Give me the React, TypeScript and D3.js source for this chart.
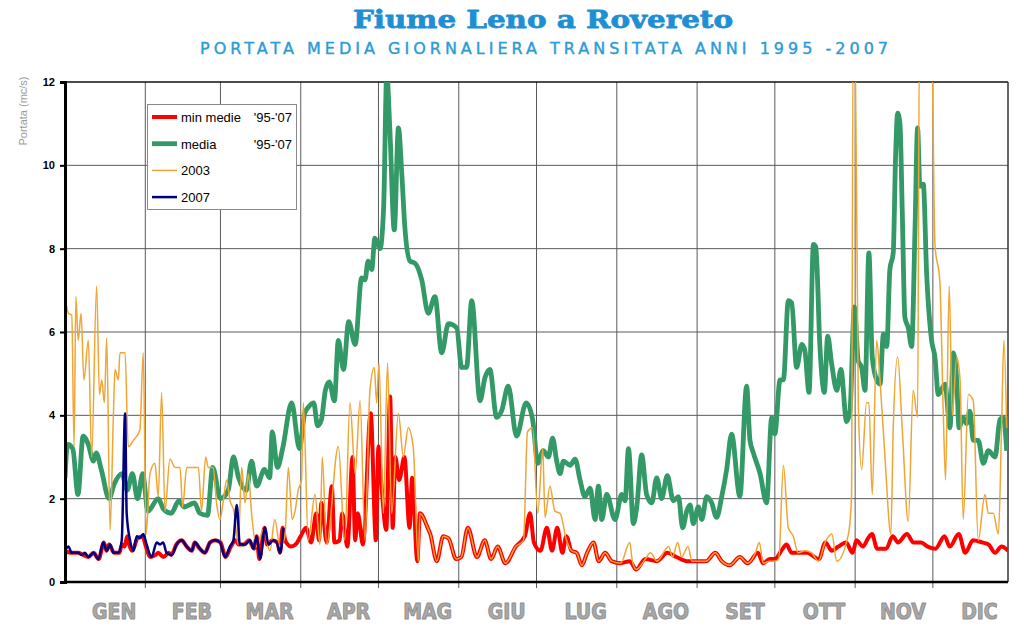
import React, { useEffect, useRef } from 'react';
import * as d3 from 'd3';

// day-of-year (0 = 1 Jan), discharge in mc/s
const minMedie: [number, number][] = [
  [0,0.75],[2,0.7],[5,0.7],[7,0.65],[9,0.6],[11,0.7],[13,0.55],[15,0.95],[16,0.75],[17,0.9],[19,0.7],[21,0.7],[22,0.9],[23,0.85],[24,1.1],[25,0.85],[26,0.75],[28,1.05],[30,1.1],[31,0.9],[33,0.6],[35,0.65],[36,0.7],[38,0.6],[40,0.7],[41,0.65],[43,0.9],[45,1.0],[47,0.85],[49,0.75],[50,0.95],[52,0.8],[54,0.7],[56,0.95],[58,1.0],[60,0.95],[62,0.6],[64,0.85],[66,1.0],[67,0.9],[69,0.9],[71,1.0],[73,0.8],[74,1.1],[75,0.55],[77,1.3],[78,0.9],[80,1.0],[82,0.95],[83,0.7],[84,1.3],[85,1.0],[86,0.9],[87,0.85],
  [89,0.9],[91,1.1],[93,1.3],[95,0.95],[97,1.65],[98,1.0],[99,1.9],[101,0.95],[103,2.3],[104,0.95],[106,1.0],[107,1.65],[109,0.85],[111,3.0],[112,1.0],[113,1.65],[115,0.9],[118,4.05],[120,1.0],[121,3.25],[122,2.45],[124,1.25],[125.5,4.45],[126.5,1.3],[127.5,3.0],[129,2.45],[131,3.0],[133,1.3],[134,2.5],[136,0.5],[137,1.65],[140,1.3],[141,1.15],[143.5,0.5],[146,1.1],[148,1.05],[151,0.55],[153,0.6],[155.5,1.3],[159,0.6],[162,1.0],[164.5,0.55],[167,0.85],[170,0.45],[174,0.85],[177.5,1.1],[179.5,1.65],[181,0.95],
  [183.5,0.75],[186,1.3],[188,0.75],[190,1.3],[192,0.7],[193.5,1.1],[195.5,0.75],[197.5,0.7],[199.5,0.4],[201.5,0.7],[204,0.95],[206,0.5],[208.5,0.7],[211,0.5],[214.5,0.45],[218,0.5],[220.5,0.3],[224,0.55],[228.5,0.5],[232.5,0.7],[236,0.6],[240,0.5],[244,0.5],[247.5,0.5],[251,0.7],[253.5,0.5],[256.5,0.4],[260.5,0.6],[263.5,0.45],[267.5,0.7],[269.5,0.45],[272,0.55],
  [274,0.55],[276.5,0.75],[278.5,0.9],[280.5,0.7],[283,0.7],[286.5,0.7],[291,0.55],[293.5,0.95],[296,0.75],[298.5,0.85],[301.5,0.95],[304,0.7],[305.5,1.0],[308,0.85],[310,1.05],[311.5,1.15],[313.5,0.8],[317,0.8],[319.5,1.1],[321.5,0.95],[325,1.15],[327.5,0.95],[330.5,0.95],[333,0.85],[336,0.8],[339.5,1.1],[341.5,0.85],[345,1.15],[347.5,0.7],[350.5,1.0],[354,0.95],[356.5,0.9],[359,0.7],[361.5,0.85],[364,0.75]
];

const media: [number, number][] = [
  [0,2.5],[1,3.3],[3,3.2],[5,2.1],[7,3.5],[9,3.3],[11,2.9],[12,3.1],[14,2.7],[17,2.0],[19,2.35],[22,2.6],[24,2.2],[26,2.6],[28,2.0],[30,2.6],[32,1.7],[36,2.0],[38,1.75],[41,1.65],[44,1.95],[46,1.8],[50,1.9],[52,1.65],[55,1.6],[57,2.75],[60,2.0],[63,2.2],[65,3.0],[67,2.5],[70,2.2],[72,2.9],[74,2.3],[77,2.7],[79,2.5],[80,3.6],[82,2.75],[84,3.2],[87.5,4.3],[90.5,3.2],[92.5,4.05],
  [94,4.2],[96,4.3],[97.5,3.75],[99,3.9],[100.5,4.6],[102,4.8],[104,4.35],[105.5,5.8],[107.5,5.1],[109.5,6.25],[112,5.7],[114.5,7.3],[115.8,7.25],[117,7.7],[118.4,7.5],[119.6,8.25],[121.6,8.0],[123,9.0],[124.2,12.2],[125.4,10.85],[127.1,8.45],[128.7,10.9],[130,9.8],[131.2,8.5],[133.2,7.7],[135.1,7.65],[137.7,7.25],[140.2,6.45],[142.8,6.85],[145.4,5.5],[148,6.2],[151.2,6.1],[153.1,5.15],[155,5.15],[157,6.75],[160.2,4.35],[162.1,4.9],[164,5.1],[166.6,3.95],[168.5,4.1],[171.1,4.7],[174.3,3.5],[178,4.3],[180.5,3.9],[182.5,2.85],
  [184.6,3.15],[186.6,3.0],[188.2,3.45],[189.8,2.9],[191.1,2.6],[192.4,2.9],[195,2.8],[196.9,2.95],[198.8,2.45],[200.7,2.05],[202.7,2.25],[204.6,1.5],[205.9,2.3],[207.2,1.5],[209.1,2.1],[212.3,1.5],[214.9,2.1],[216.2,1.95],[217.5,3.2],[219.4,1.4],[220.7,1.8],[222.6,3.05],[224.5,2.1],[226.5,1.9],[228.4,2.5],[230.3,2.0],[232.5,2.55],[234.8,1.95],[236.8,2.05],[238.4,1.3],[240,1.7],[241.3,1.85],[242.5,1.4],[244.5,1.8],[245.8,1.5],[247.7,2.05],[249.6,1.9],[251.5,1.55],[253.5,2.05],[255.4,2.7],[257.3,3.55],[260.5,2.05],[263.1,4.7],[264.4,3.4],[265.7,3.1],[268.3,2.6],[270.8,1.9],
  [272.8,3.95],[274,3.55],[276,4.85],[277.3,4.85],[279.2,6.75],[280.5,6.7],[282.4,5.15],[284.4,5.7],[285.6,5.55],[287.2,4.55],[288.9,8.1],[289.8,8.05],[291.4,5.65],[293.1,4.55],[294.4,5.9],[295.9,5.25],[297.9,4.6],[299.5,5.1],[301.7,3.85],[303,4.1],[304.7,6.6],[306.2,5.3],[307.5,5.15],[308.8,4.6],[310.3,7.9],[311.6,5.4],[313.3,4.85],[314.6,4.75],[315.9,5.95],[317.2,5.65],[318.4,7.5],[319.7,7.9],[320.6,10.2],[321.4,11.25],[322.3,11.0],[323.2,8.85],[324.2,6.35],[325.5,6.1],[326.8,5.65],[328.1,8.45],[329.1,10.9],[330,9.5],[331.3,9.55],[332.6,7.4],[334.5,5.8],[335.8,5.4],[337.1,4.5],[339.7,4.75],[341.6,3.7],[342.9,5.5],[344.2,4.85],[345.1,3.7],[346.7,3.95],[348,3.8],[349.3,4.1],[350.6,3.4],[352.5,3.4],[354.5,2.85],[356.4,3.15],[359,3.0],[360.9,3.9],[362.2,3.95],[363.5,3.15]
];

const anno2003: [number, number][] = [
  [0,6.85],[1.3,6.45],[2.6,6.4],[3.5,3.25],[4.2,6.85],[5.1,5.8],[6.2,6.45],[7.3,4.85],[9,5.8],[10.3,3.0],[12.2,7.1],[13.3,4.5],[14.2,4.85],[15.2,4.3],[16.1,5.85],[17.4,1.25],[18.7,4.05],[19.3,5.1],[20.6,4.85],[21.2,5.5],[23.2,5.5],[24.4,3.25],[26.4,3.4],[28.9,3.65],[30.2,5.5],[31.3,1.15],[32.8,2.6],[34.7,2.85],[36,2.05],[37.3,4.55],[38.6,1.7],[40.5,2.95],[42.5,2.75],[44.4,2.75],[45.4,1.8],[47,2.75],[49.5,2.75],[51.5,2.75],[52.7,1.7],[54.3,3.0],[55.3,2.75],[57.2,2.75],[58.5,1.9],[59.8,1.5],[61.1,1.95],[62.4,2.45],[63.7,1.95],[65.2,1.7],[66.9,0.9],[68.2,2.75],[69.5,1.9],[70.8,2.6],[72,1.65],[74,0.85],[76.5,1.25],[79.1,0.75],[81,1.5],[83,0.85],[84.9,1.1],[86.2,2.75],[87.7,1.5],[88.8,1.7],[90,2.2],[91.3,2.45],
  [92,4.3],[93.9,1.0],[96.5,2.1],[98.4,0.9],[99.3,3.0],[101,0.9],[105.5,3.25],[108,1.0],[110,4.3],[112,2.6],[113.9,4.35],[115.8,1.0],[117.7,4.6],[119.4,5.15],[120.3,4.3],[121.2,5.25],[122.9,1.65],[124.5,5.25],[126.1,1.65],[128.7,4.05],[130.6,3.0],[132.5,3.7],[134.4,3.25],[136.4,0.5],
  [137,1.65],[140,1.3],[141,1.15],[143.5,0.5],[146,1.1],[148,1.05],[151,0.55],[153,0.6],[155.5,1.3],[159,0.6],[162,1.0],[164.5,0.55],[167,0.85],[170,0.45],[174,0.85],[177,1.0],
  [178.5,3.6],[180.5,3.7],[182.5,1.65],[184.4,3.2],[185.3,1.55],[187.2,2.3],[189.1,1.7],[191.1,1.65],[193.6,1.0],[195.5,0.75],[197.5,0.7],[199.5,0.4],[201.5,0.7],[204,0.95],[206,0.5],[208.5,0.7],[211,0.5],[214.5,0.45],[218,0.95],[219,0.5],[220.5,0.3],[224,0.55],[226,0.7],[228.5,0.5],[233,0.85],[234.5,0.6],[236.5,0.95],[238,0.6],[240.5,0.85],[242,0.5],[244,0.5],[247.5,0.5],[251,0.7],[253.5,0.5],[256.5,0.4],[260.5,0.6],[263.5,0.45],[266.5,0.7],[268,0.95],[269.5,0.45],[272,0.5],
  [274,0.5],[275.5,0.55],[277.3,2.8],[279.2,1.3],[281.1,1.1],[283,0.7],[285.6,0.75],[288.2,0.7],[290.8,0.5],[293.4,0.95],[296,1.15],[297.9,0.5],[302.4,1.15],[303.6,2.05],[304.2,13],[305,13],[306.2,4.3],[307.5,2.7],[309.4,4.3],[310.3,4.3],[311.6,2.1],[313.3,5.8],[314.6,4.85],[316.5,3.0],[318.8,1.15],[319.7,3.7],[321.4,5.4],[323.2,3.65],[325.5,1.45],[327.4,4.6],[329.1,3.95],[329.8,13],[334.5,13],[335.8,8.1],[337.7,7.2],[339,4.1],[339.9,2.45],[341.3,7.1],[342.5,4.0],[344.2,5.4],[345.5,4.85],[346.7,1.5],[348.7,4.5],[350.6,4.35],[352.5,1.0],[355.1,2.1],[356.4,1.65],[358.3,1.65],[360.3,1.15],[361.5,3.65],[362.4,5.8],[363.5,3.7]
];

const anno2007: [number, number][] = [
  [0,0.75],[1.3,0.85],[2.6,0.7],[5.1,0.7],[6.4,0.65],[7.7,0.7],[9,0.6],[11,0.7],[12.9,0.55],[14.8,0.95],[16.1,0.75],[17.4,0.9],[18.7,0.7],[20.6,0.7],[21.9,1.0],[23.2,4.05],[23.8,1.65],[25.1,1.0],[26.4,0.75],[27.7,1.1],[28.9,1.05],[30.2,1.15],[31.5,0.9],[33.4,0.6],[35.4,0.95],[36.7,0.9],[37.9,0.95],[39.2,0.7],[41.2,0.65],[43.1,0.9],[45,1.0],[47,0.85],[48.9,0.75],[50.2,0.95],[52.1,0.8],[54,0.7],[56,0.95],[57.9,1.0],[59.8,0.95],[61.8,0.6],[63.7,0.85],[65,1.0],[66.3,1.85],[67.5,0.9],[69.5,0.9],[71.4,1.0],[72.7,0.8],[74,1.1],[75.3,0.55],[77.2,1.3],[78.5,0.9],[80.4,1.0],[81.7,0.95],[83,0.7],[84.3,1.3]
];

const monthNames = ['GEN','FEB','MAR','APR','MAG','GIU','LUG','AGO','SET','OTT','NOV','DIC'];
const monthEnds = [31,60,91,121,152,182,213,244,274,305,335];
const yTicks = [0,2,4,6,8,10,12];

const series = [
  { name: 'min medie', tag: "'95-'07", data: minMedie, color: '#ff0000', width: 4 },
  { name: 'media', tag: "'95-'07", data: media, color: '#339966', width: 4.8 },
  { name: '2003', tag: '', data: anno2003, color: '#f0a534', width: 1.5 },
  { name: '2007', tag: '', data: anno2007, color: '#000080', width: 2.5 },
];

const W = 1024, H = 639;
const margin = { left: 65, right: 16, top: 82, bottom: 57 };

export default function App() {
  const ref = useRef<SVGSVGElement>(null);

  useEffect(() => {
    const svg = d3.select(ref.current);
    svg.selectAll('*').remove();

    const x = d3.scaleLinear().domain([0, 364]).range([margin.left, W - margin.right]);
    const y = d3.scaleLinear().domain([0, 12]).range([H - margin.bottom, margin.top]);

    // titles
    svg.append('text')
      .attr('x', 543).attr('y', 28)
      .attr('text-anchor', 'middle')
      .attr('font-family', 'DejaVu Serif')
      .attr('font-weight', 'bold')
      .attr('font-size', 25)
      .attr('textLength', 380).attr('lengthAdjust', 'spacingAndGlyphs')
      .attr('fill', '#1f8fd4')
      .attr('stroke', '#1f8fd4').attr('stroke-width', 0.8).attr('stroke-linejoin', 'round')
      .text('Fiume Leno a Rovereto');

    svg.append('text')
      .attr('x', 544).attr('y', 54)
      .attr('text-anchor', 'middle')
      .attr('font-family', 'DejaVu Sans')
      .attr('font-size', 16)
      .attr('textLength', 688).attr('lengthAdjust', 'spacing')
      .attr('fill', '#2a9bd8')
      .attr('stroke', '#2a9bd8').attr('stroke-width', 0.4)
      .text('PORTATA MEDIA GIORNALIERA TRANSITATA ANNI 1995 -2007');

    // gridlines
    const grid = svg.append('g').attr('stroke', '#5a5a5a').attr('stroke-width', 1);
    grid.selectAll('line.h').data(yTicks.slice(1, -1)).enter().append('line')
      .attr('x1', x(0)).attr('x2', x(364))
      .attr('y1', d => y(d)).attr('y2', d => y(d));
    grid.selectAll('line.v').data(monthEnds).enter().append('line')
      .attr('x1', d => x(d)).attr('x2', d => x(d))
      .attr('y1', y(12)).attr('y2', y(0) + 6);

    // frame
    svg.append('line').attr('x1', x(0)).attr('x2', x(364)).attr('y1', y(12)).attr('y2', y(12))
      .attr('stroke', '#111').attr('stroke-width', 1.5);
    svg.append('line').attr('x1', x(364)).attr('x2', x(364)).attr('y1', y(12)).attr('y2', y(0))
      .attr('stroke', '#333').attr('stroke-width', 1.5);

    // clip
    svg.append('defs').append('clipPath').attr('id', 'plot')
      .append('rect').attr('x', x(0)).attr('y', y(12)).attr('width', x(364) - x(0)).attr('height', y(0) - y(12));

    const line = d3.line<[number, number]>()
      .x(d => x(d[0])).y(d => y(d[1]))
      .curve(d3.curveMonotoneX);

    const plot = svg.append('g').attr('clip-path', 'url(#plot)');
    series.forEach(s => {
      plot.append('path')
        .datum(s.data)
        .attr('d', line)
        .attr('fill', 'none')
        .attr('stroke', s.color)
        .attr('stroke-width', s.width)
        .attr('stroke-linejoin', 'round');
    });

    // axes
    const yAxis = svg.append('g').attr('transform', `translate(${x(0)},0)`)
      .call(d3.axisLeft(y).tickValues(yTicks).tickSize(5).tickPadding(5).tickFormat(d3.format('d')));
    yAxis.select('.domain').attr('stroke', '#000').attr('stroke-width', 3);
    yAxis.selectAll('.tick line').attr('stroke', '#000').attr('stroke-width', 2);
    yAxis.selectAll('.tick text').attr('font-family', 'Liberation Sans').attr('font-weight', 'bold').attr('font-size', 11).attr('fill', '#000');

    svg.append('line').attr('x1', x(0) - 1).attr('x2', x(364)).attr('y1', y(0)).attr('y2', y(0))
      .attr('stroke', '#000').attr('stroke-width', 2.5);

    svg.append('text')
      .attr('transform', 'translate(27,111) rotate(-90)')
      .attr('text-anchor', 'middle')
      .attr('font-family', 'Liberation Sans')
      .attr('font-size', 11)
      .attr('fill', '#9a9a9a')
      .text('Portata (mc/s)');

    // month labels
    const bounds = [0, ...monthEnds, 364];
    const months = svg.append('g').attr('font-family', 'DejaVu Sans Condensed, DejaVu Sans').attr('font-weight', 'bold')
      .attr('font-size', 21).attr('text-anchor', 'middle');
    months.selectAll('text').data(monthNames).enter().append('text')
      .attr('x', (d, i) => (x(bounds[i]) + x(bounds[i + 1])) / 2 + 9)
      .attr('y', 619)
      .attr('fill', '#a9a9a9')
      .attr('stroke', '#8e8e8e').attr('stroke-width', 0.9).attr('stroke-linejoin', 'round')
      .text(d => d);

    // legend
    const lg = svg.append('g');
    lg.append('rect').attr('x', 147.5).attr('y', 104.5).attr('width', 149).attr('height', 105)
      .attr('fill', '#fff').attr('stroke', '#8a8a8a');
    series.forEach((s, i) => {
      const yy = 117 + i * 26.7;
      lg.append('line').attr('x1', 152).attr('x2', 177).attr('y1', yy).attr('y2', yy)
        .attr('stroke', s.color).attr('stroke-width', s.width);
      lg.append('text').attr('x', 181).attr('y', yy + 5)
        .attr('font-family', 'Liberation Sans').attr('font-size', 13).attr('fill', '#000')
        .text(s.name);
      if (s.tag) {
        lg.append('text').attr('x', 292).attr('y', yy + 5).attr('text-anchor', 'end')
          .attr('font-family', 'Liberation Sans').attr('font-size', 13).attr('fill', '#000')
          .text(s.tag);
      }
    });
  }, []);

  return (
    <div style={{ position: 'absolute', left: 0, top: 0 }}>
      <svg ref={ref} width={W} height={H} style={{ display: 'block', background: '#fff' }} />
    </div>
  );
}
